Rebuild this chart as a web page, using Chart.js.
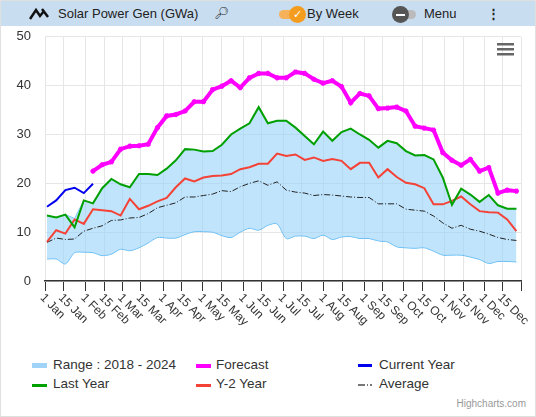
<!DOCTYPE html>
<html><head><meta charset="utf-8">
<script src="https://cdn.jsdelivr.net/npm/chart.js@4/dist/chart.umd.min.js"></script>
<style>
body{margin:0;background:#fff;font-family:"Liberation Sans",Arial,sans-serif;}
#wrap{position:relative;width:534px;height:415px;border:1px solid #e0e0e0;overflow:hidden;}
#hdr{position:absolute;left:0;top:0;width:534px;height:25px;background:#c9ddf1;font-size:13px;color:#222;}
#hdr span{position:absolute;top:5px;}
#cv{position:absolute;left:0;top:14px;}
.lg{position:absolute;font-size:13.5px;color:#333;}
.sym{position:absolute;height:3px;}
</style></head><body>
<div id="wrap">
<div id="hdr">
 <svg style="position:absolute;left:28px;top:6px" width="20" height="13" viewBox="0 0 20 13"><path d="M1 12 L7 3 L11 9 L15 4 M13 2 L19 10" stroke="#111" stroke-width="2.5" fill="none"/></svg>
 <span style="left:57px">Solar Power Gen (GWa)</span>
 <span style="left:213px;font-size:12px">&#x1F50E;&#xFE0E;</span>
 <div style="position:absolute;left:278px;top:9px;width:22px;height:9px;border-radius:5px;background:#f5b25a"></div>
 <div style="position:absolute;left:288px;top:5px;width:17px;height:17px;border-radius:9px;background:#f39c1e;color:#fff;font-size:11px;text-align:center;line-height:17px">&#10003;</div>
 <span style="left:306px">By Week</span>
 <div style="position:absolute;left:393px;top:9px;width:22px;height:9px;border-radius:5px;background:#bbb"></div>
 <div style="position:absolute;left:391px;top:5px;width:17px;height:17px;border-radius:9px;background:#555"><div style="margin:8px 4px;height:2px;background:#fff"></div></div>
 <span style="left:423px">Menu</span>
 <span style="left:486px;font-weight:bold">&#8942;</span>
</div>
<canvas id="cv" width="536" height="325"></canvas>
<div class="sym" style="left:31px;top:362px;width:15px;height:5px;background:#9fd3f7"></div><div class="lg" style="left:52px;top:356px">Range : 2018 - 2024</div>
<div class="sym" style="left:195px;top:363px;width:15px;height:4px;background:#ff00ff"></div><div class="lg" style="left:215px;top:356px">Forecast</div>
<div class="sym" style="left:357px;top:363px;width:14px;background:#0000ee"></div><div class="lg" style="left:378px;top:356px">Current Year</div>
<div class="sym" style="left:31px;top:383px;width:15px;background:#00a000"></div><div class="lg" style="left:52px;top:375px">Last Year</div>
<div class="sym" style="left:195px;top:383px;width:15px;background:#f44336"></div><div class="lg" style="left:215px;top:375px">Y-2 Year</div>
<div class="sym" style="left:357px;top:383px;width:14px;height:2px;background:linear-gradient(90deg,#777 0 7px,transparent 7px 9px,#777 9px 10px,transparent 10px 12px,#777 12px)"></div><div class="lg" style="left:378px;top:375px">Average</div>
<div style="position:absolute;right:9px;top:397px;font-size:10px;color:#999">Highcharts.com</div>
<svg style="position:absolute;left:496px;top:42px" width="18" height="14"><rect y="0" width="17" height="2.5" fill="#666"/><rect y="5" width="17" height="2.5" fill="#666"/><rect y="10" width="17" height="2.5" fill="#666"/></svg>
</div>
<script>
const tickDays=[1,15,32,46,60,74,91,105,121,135,152,166,182,196,213,227,244,258,274,288,305,319,335,349];
const tickLabels=["1 Jan","15 Jan","1 Feb","15 Feb","1 Mar","15 Mar","1 Apr","15 Apr","1 May","15 May","1 Jun","15 Jun","1 Jul","15 Jul","1 Aug","15 Aug","1 Sep","15 Sep","1 Oct","15 Oct","1 Nov","15 Nov","1 Dec","15 Dec"];
const weekDays=[2.5,9.5,16.5,23.5,30.5,37.5,44.5,51.5,58.5,65.5,72.5,79.5,86.5,93.5,100.5,107.5,114.5,121.5,128.5,135.5,142.5,149.5,156.5,163.5,170.5,177.5,184.5,191.5,198.5,205.5,212.5,219.5,226.5,233.5,240.5,247.5,254.5,261.5,268.5,275.5,282.5,289.5,296.5,303.5,310.5,317.5,324.5,331.5,338.5,345.5,352.5,359.5];
const rangeLow=[4.5,4.5,3.5,5.8,5.9,5.8,5.2,5.5,6.5,6.2,6.8,7.8,8.9,8.8,8.8,9.5,10.1,10.1,10,9.3,8.9,10,10.8,10.4,11.4,11.7,8.7,9.2,9.2,8.7,9.4,8.5,9,9.1,8.7,8.7,8.2,8,7,6.8,6.7,6.8,6.1,5.3,5.3,5.3,4.9,4.4,3.6,4,4,3.9];
const rangeHigh=[13.4,13,13.6,12.8,16.5,15.9,19,20.9,19.8,19.2,21.9,21.9,21.7,23,24.7,27,26.9,26.5,26.6,27.9,30,31.2,32.3,35.6,32.3,32.8,32.8,31.4,29.7,28,30.6,28.7,30.5,31.2,30,28.9,27.3,28.7,28.2,26.6,25.7,25.8,24.9,21.2,15.6,18.9,17.7,16.2,17.6,15.5,14.8,14.8];
const forecast=[null,null,null,null,null,22.5,23.8,24.4,27,27.6,27.7,28,31.4,33.8,34.1,34.8,36.7,36.7,39.2,39.9,41,39.6,41.6,42.5,42.5,41.6,41.6,42.8,42.5,41.3,40.5,41,39.8,36.5,38.4,37.9,35.3,35.4,35.6,34.8,31.7,31.3,30.9,26.3,24.7,23.7,24.9,22.5,23.2,18,18.6,18.4];
const currentYear=[15.2,16.5,18.6,19.1,18,19.9];
const lastYear=[13.4,13,13.6,11,16.5,15.9,19,20.9,19.8,19.2,21.9,21.9,21.7,23,24.7,27,26.9,26.5,26.6,27.9,30,31.2,32.3,35.6,32.3,32.8,32.8,31.4,29.7,28,30.6,28.7,30.5,31.2,30,28.9,27.3,28.7,28.2,26.6,25.7,25.8,24.9,21.2,15.6,18.9,17.7,16.2,17.6,15.5,14.8,14.8];
const y2Year=[8,10.4,9.7,12.6,11.7,14.7,14.5,14.3,13.4,16.8,14.7,15.4,16.3,17,19.2,21,20.4,21.2,21.5,21.6,21.9,22.9,23.3,24,24,26.1,25.6,25.9,24.8,25.3,24.6,25,24.6,22.9,24.2,24.2,21.2,22.9,21.3,20.1,19.8,19,15.7,15.7,16.4,17.3,15.7,14.3,14.1,14,12.6,10.2];
const average=[7.9,8.8,8.5,8.6,10.2,10.8,11.3,12.4,12.5,12.9,13,13.8,15,15.5,16,17.2,17.2,17.5,17.8,18.5,18.3,19.3,20,20.5,19.6,20.3,18.6,18.2,18,17.5,17.7,17.6,17.4,17.2,17.1,17.1,15.8,15.8,15.8,14.7,14.5,14.3,13.3,11.9,10.8,11.4,10.6,10.2,9.6,8.9,8.5,8.3];
const pts=a=>a.map((v,i)=>({x:weekDays[i],y:v}));
const labelPlugin={id:'lbl',afterDraw(c){const x=c.scales.x,ctx=c.ctx;ctx.save();ctx.font='12px "Liberation Sans",Arial';ctx.fillStyle='#333';
 tickDays.forEach((d,i)=>{const px=x.getPixelForValue(d);ctx.save();ctx.translate(px-3,x.top+15);ctx.rotate(Math.PI/4);ctx.textBaseline='middle';ctx.fillText(tickLabels[i],0,0);ctx.restore();});ctx.restore();}};
new Chart(document.getElementById('cv'),{type:'line',
 data:{datasets:[
  {data:pts(rangeLow),borderColor:'#5cb8f2',borderWidth:1,pointRadius:0,tension:0.3,fill:false,order:7},
  {data:pts(rangeHigh),borderColor:'#7cc7f5',borderWidth:1,pointRadius:0,tension:0,fill:'-1',backgroundColor:'rgba(150,210,250,0.6)',order:6},
  {data:pts(average),borderColor:'#222',borderWidth:1,borderDash:[6,2,1,2],pointRadius:0,order:5},
  {data:pts(y2Year),borderColor:'#f44336',borderWidth:2,pointRadius:0,order:4},
  {data:pts(lastYear),borderColor:'#00a000',borderWidth:2,pointRadius:0,order:3},
  {data:pts(currentYear),borderColor:'#0000ee',borderWidth:2,pointRadius:0,order:2},
  {data:pts(forecast),borderColor:'#ff00ff',borderWidth:4,pointRadius:2.5,pointBackgroundColor:'#ff00ff',pointBorderColor:'#ff00ff',pointStyle:'crossRot',pointBorderWidth:3,order:1}
 ]},
 options:{animation:false,responsive:false,layout:{padding:{top:0,right:16,left:0,bottom:0}},
  plugins:{legend:{display:false},tooltip:{enabled:false}},
  scales:{
   x:{type:'linear',min:1,max:363,afterBuildTicks:s=>{s.ticks=tickDays.concat([363]).map(v=>({value:v}));},
      afterFit:s=>{s.height=59;},
      grid:{color:'#e6e6e6',tickColor:'#333',tickLength:10,drawOnChartArea:true},border:{color:'#333',width:1.5},
      ticks:{callback:()=>'',maxRotation:0,autoSkip:false}},
   y:{min:0,max:50,afterFit:s=>{s.width=44;},ticks:{stepSize:10,color:'#333',font:{size:13,family:'"Liberation Sans",Arial'},padding:14},
      grid:{color:'#e6e6e6',drawTicks:false},border:{display:false}}
  }},
 plugins:[labelPlugin]});
</script>
</body></html>
